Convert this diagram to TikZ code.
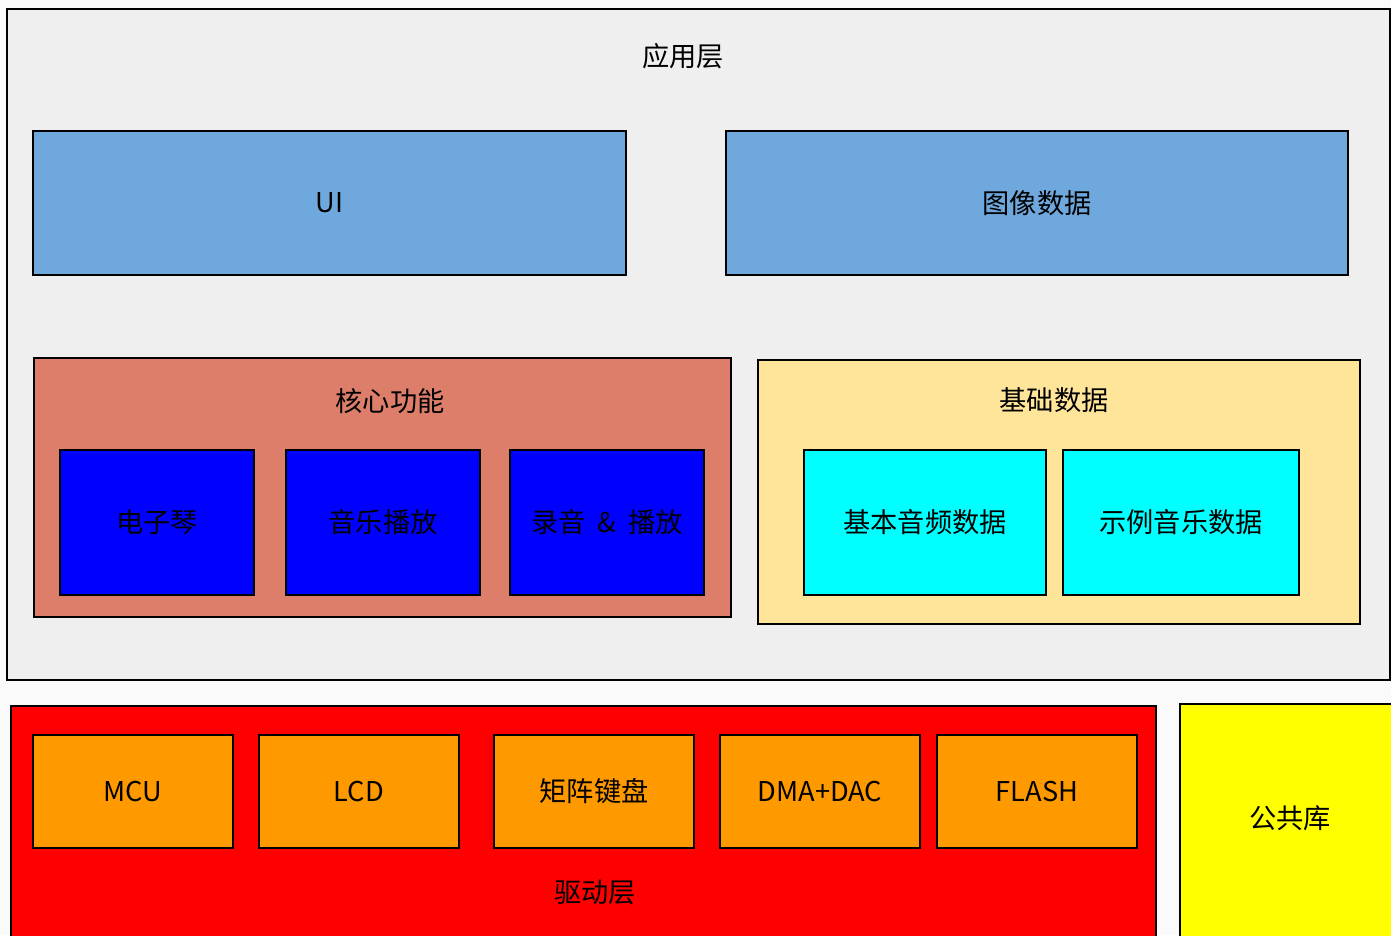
\documentclass[tikz,border=0pt]{standalone}
\usepackage{fontspec}
\setmainfont{Noto Sans CJK SC}
\usepackage{xcolor}
\usepackage{tikz}
\usetikzlibrary{positioning,calc}

\definecolor{layergray}{HTML}{EFEFEF}
\definecolor{uiblue}{HTML}{6FA8DC}
\definecolor{coresalmon}{HTML}{DD7E6B}
\definecolor{basecream}{HTML}{FFE599}
\definecolor{drvorange}{HTML}{FF9900}
\definecolor{funcblue}{HTML}{0000FF}
\definecolor{datacyan}{HTML}{00FFFF}
\definecolor{drvred}{HTML}{FF0000}
\definecolor{libyellow}{HTML}{FFFF00}

\tikzset{
    blk/.style={draw=black, line width=1.2pt, inner sep=0pt, outer sep=0pt, anchor=north west},
    lbl/.style={font=\fontsize{15.5}{18}\selectfont, text=black}
}

\begin{document}
\begin{tikzpicture}[y=-1cm]
        \useasboundingbox (0,0) rectangle (27.82,18.70);
        \clip (0,0) rectangle (27.82,18.70);
        \fill[white!96!gray] (0,0) rectangle (27.82,18.70);
        % Application layer
        \node[blk, fill=layergray, minimum width=27.66cm, minimum height=13.42cm] (app) at (0.14,0.18) {};
        \node[lbl] (applbl) at (13.66,1.12) {应用层};
        \node[blk, fill=uiblue, minimum width=11.86cm, minimum height=2.88cm, lbl] (ui) at (0.66,2.62) {UI};
        \node[blk, fill=uiblue, minimum width=12.44cm, minimum height=2.88cm, lbl] (img) at (14.52,2.62) {图像数据};
        % Core functions
        \node[blk, fill=coresalmon, minimum width=13.94cm, minimum height=5.18cm] (core) at (0.68,7.16) {};
        \node[lbl] (corelbl) at (7.80,8.02) {核心功能};
        \foreach \name/\x/\txt in {piano/1.20/电子琴, play/5.72/音乐播放, rec/10.20/录音~~\&~~播放} {
            \node[blk, fill=funcblue, minimum width=3.88cm, minimum height=2.90cm, lbl] (\name) at (\x,9.00) {\txt};
        }
        % Basic data
        \node[blk, fill=basecream, minimum width=12.04cm, minimum height=5.28cm] (base) at (15.16,7.20) {};
        \node[lbl] (baselbl) at (21.08,8.00) {基础数据};
        \node[blk, fill=datacyan, minimum width=4.84cm, minimum height=2.90cm, lbl] (audio) at (16.08,9.00) {基本音频数据};
        \node[blk, fill=datacyan, minimum width=4.72cm, minimum height=2.90cm, lbl] (sample) at (21.26,9.00) {示例音乐数据};
        % Driver layer
        \node[blk, fill=drvred, minimum width=22.90cm, minimum height=5.20cm] (drv) at (0.22,14.12) {};
        \foreach \name/\x/\txt in {mcu/0.66/MCU, lcd/5.18/LCD, keypad/9.88/矩阵键盘, dma/14.40/DMA+DAC, flash/18.74/FLASH} {
            \node[blk, fill=drvorange, minimum width=4.00cm, minimum height=2.26cm, lbl] (\name) at (\x,14.70) {\txt};
        }
        \node[lbl] (drvlbl) at (11.90,17.84) {驱动层};
        % Common library
        \node[blk, fill=libyellow, minimum width=4.40cm, minimum height=5.20cm] (lib) at (23.60,14.08) {};
        \node[lbl] (liblbl) at (25.80,16.36) {公共库};
    \end{tikzpicture}
\end{document}
